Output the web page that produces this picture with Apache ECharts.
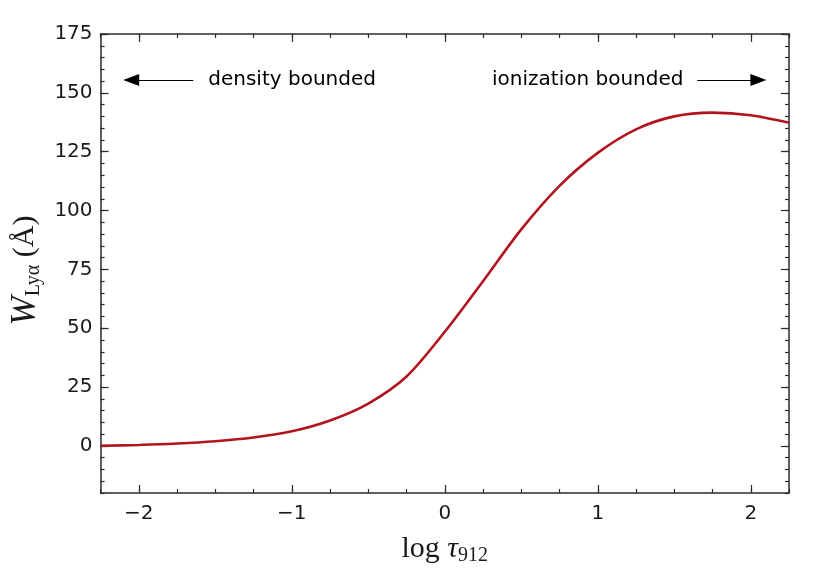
<!DOCTYPE html>
<html>
<head>
<meta charset="utf-8">
<script src="https://cdn.jsdelivr.net/npm/echarts@6/dist/echarts.min.js"></script>
<style>
html,body{margin:0;padding:0;background:#fff;}
#chart{width:830px;height:571px;}
</style>
</head>
<body>
<div id="chart"></div>
<script>
// ---- data ----
const logTau = [-2.25,-2,-1.75,-1.5,-1.25,-1,-0.75,-0.5,-0.25,0,0.25,0.5,0.75,1,1.25,1.5,1.75,2,2.25];
const wLya   = [0.1,0.4,1.0,2.0,3.6,6.2,10.8,18.0,29.5,48.5,70,92,110.5,124.5,134.5,140,141.6,140.5,137.3];
const xMajorTicks = [-2,-1,0,1,2];
const yMajorTicks = [0,25,50,75,100,125,150,175];
const leftNote = 'density bounded';
const rightNote = 'ionization bounded';
const leftArrow = [[-1.644,155.5],[-2.05,155.5]];
const rightArrow = [[1.65,155.5],[2.05,155.5]];
const leftNotePos = [-1.546,155.5];
const rightNotePos = [1.56,155.5];

const X_MIN=-2.25, X_MAX=2.25, Y_MIN=-20, Y_MAX=175;
const axisColor = '#2b2b2b';
const tickFont = {fontFamily:'DejaVu Sans', fontSize:20, color:'#1a1a1a'};
const fmtMinus = v => String(v).replace('-', '\u2212');

function xAxisDef(pos, major, showLabels, showLine){
  return {
    type:'value', position:pos, min:X_MIN, max:X_MAX, interval:0.25,
    axisLine:{show:showLine, onZero:false, lineStyle:{color:axisColor, width:1.5}},
    axisTick:{show:true, inside:true, length: major?8:4, lineStyle:{color:axisColor, width:1.2},
      customValues: major ? xMajorTicks : undefined},
    axisLabel:{show:showLabels, customValues: showLabels?xMajorTicks:undefined, margin:11,
      formatter:fmtMinus, ...tickFont},
    splitLine:{show:false}
  };
}
function yAxisDef(pos, major, showLabels, showLine){
  return {
    type:'value', position:pos, min:Y_MIN, max:Y_MAX, interval:5,
    axisLine:{show:showLine, onZero:false, lineStyle:{color:axisColor, width:1.5}},
    axisTick:{show:true, inside:true, length: major?8:4, lineStyle:{color:axisColor, width:1.2},
      customValues: major ? yMajorTicks : undefined},
    axisLabel:{show:showLabels, customValues: showLabels?yMajorTicks:undefined, margin:8,
      formatter:fmtMinus, ...tickFont},
    splitLine:{show:false}
  };
}

const xAxes = [
  Object.assign(xAxisDef('bottom', true, true, true), {
    name:'{n|log }{t|τ}{s|912}', nameLocation:'middle', nameGap:40,
    nameTextStyle:{rich:{
      n:{fontFamily:'Liberation Serif', fontSize:30, color:'#1a1a1a'},
      t:{fontFamily:'Liberation Serif', fontStyle:'italic', fontSize:30, color:'#1a1a1a'},
      s:{fontFamily:'Liberation Serif', fontSize:20, color:'#1a1a1a', padding:[13,0,0,0]}
    }}
  }),
  xAxisDef('bottom', false, false, false),
  xAxisDef('top', true, false, true),
  xAxisDef('top', false, false, false)
];
const yAxes = [
  Object.assign(yAxisDef('left', true, true, true), {
    name:'{w|W}{s|Lyα}{n| (Å)}', nameLocation:'middle', nameGap:52, nameRotate:90,
    nameTextStyle:{padding:[0,14,0,0], rich:{
      w:{fontFamily:'Liberation Serif', fontStyle:'italic', fontSize:35, color:'#1a1a1a'},
      s:{fontFamily:'Liberation Serif', fontSize:20, color:'#1a1a1a', padding:[16,0,0,0]},
      n:{fontFamily:'Liberation Serif', fontSize:30, color:'#1a1a1a'}
    }}
  }),
  yAxisDef('left', false, false, false),
  yAxisDef('right', true, false, true),
  yAxisDef('right', false, false, false)
];

const chart = echarts.init(document.getElementById('chart'), null, {renderer:'canvas'});
chart.setOption({
  animation:false,
  backgroundColor:'#fff',
  grid:{left:99, right:41, top:34, bottom:78, containLabel:false},
  xAxis:xAxes,
  yAxis:yAxes,
  series:[{
    type:'line',
    data: logTau.map((x,i)=>[x, wLya[i]]),
    showSymbol:false, smooth:0.3,
    lineStyle:{color:'#b0141e', width:2.6},
    markLine:{
      silent:true, symbol:['none','triangle'], symbolSize:[12,16],
      label:{show:false},
      lineStyle:{color:'#000', width:1, type:'solid'},
      data:[
        [{coord:leftArrow[0]},{coord:leftArrow[1]}],
        [{coord:rightArrow[0]},{coord:rightArrow[1]}]
      ]
    },
    markPoint:{
      silent:true, symbol:'circle', symbolSize:0,
      data:[
        {coord:leftNotePos, label:{show:true, position:'right', distance:0, formatter:leftNote,
          fontFamily:'DejaVu Sans', fontSize:20, color:'#000'}},
        {coord:rightNotePos, label:{show:true, position:'left', distance:0, formatter:rightNote,
          fontFamily:'DejaVu Sans', fontSize:20, color:'#000'}}
      ]
    }
  }]
});
</script>
</body>
</html>
